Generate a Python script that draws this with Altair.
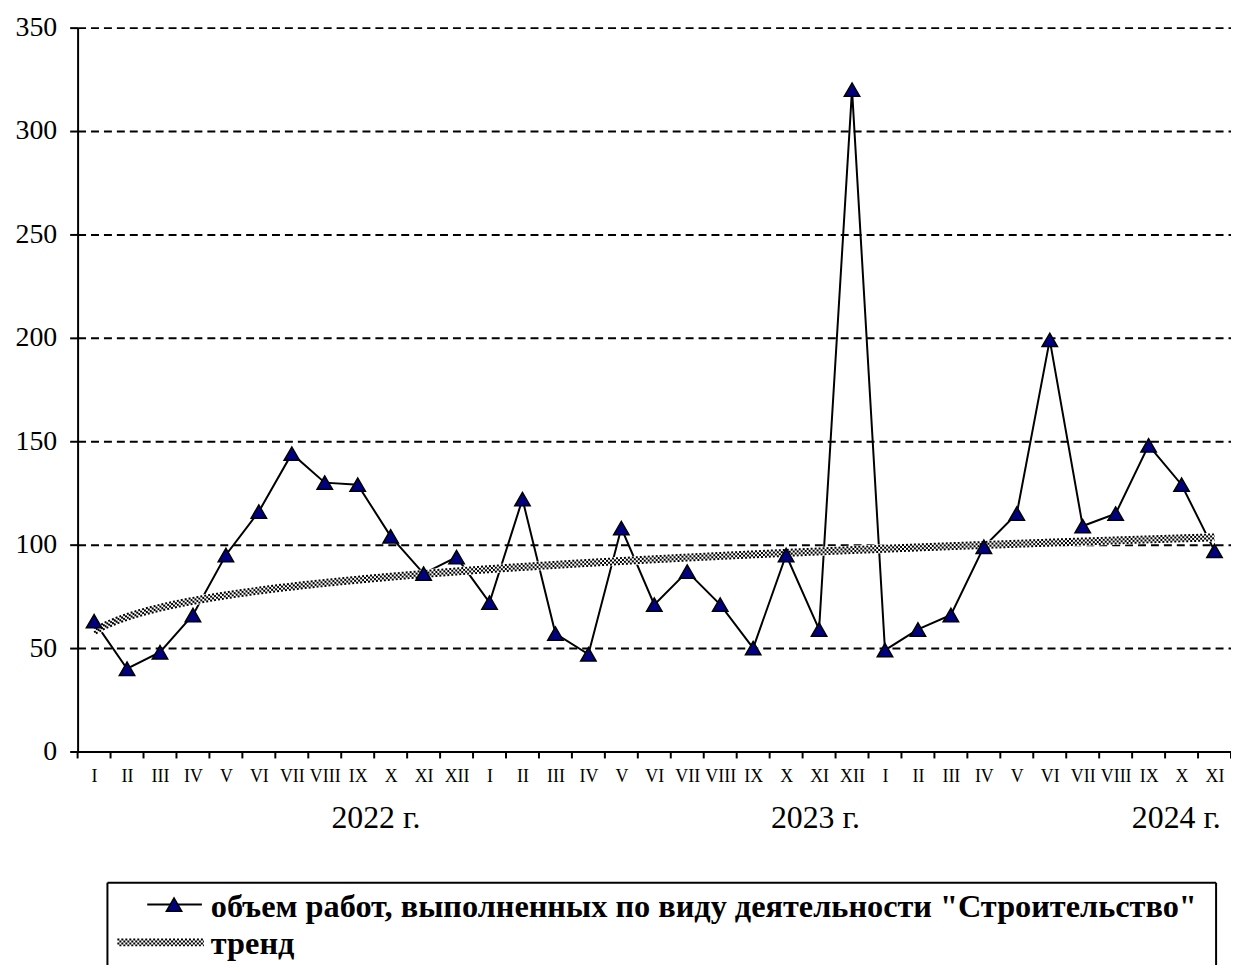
import altair as alt
import pandas as pd
import numpy as np

years = ["2022"] * 12 + ["2023"] * 12 + ["2024"] * 11
months = ["I", "II", "III", "IV", "V", "VI", "VII", "VIII", "IX", "X", "XI", "XII"] * 2 + \
         ["I", "II", "III", "IV", "V", "VI", "VII", "VIII", "IX", "X", "XI"]
values = [63, 40, 48, 66, 95, 116, 144, 130, 129, 104, 86, 94,
          72, 122, 57, 47, 108, 71, 87, 71, 50, 95, 59, 320,
          49, 59, 66, 99, 115, 199, 109, 115, 148, 129, 97]
year_labels = ["2022 г.", "2023 г.", "2024 г."]
series_name = "объем работ, выполненных по виду деятельности \"Строительство\""
trend_name = "тренд"

n = len(values)
df = pd.DataFrame({"idx": np.arange(1, n + 1), "value": values, "month": months, "year": years})
bounds = pd.DataFrame({"b": np.arange(0.5, n + 1, 1.0)})

FONT = "Liberation Serif"
W, H = 1160, 728

label_arr = "[" + ",".join("'" + m + "'" for m in months) + "]"

xscale = alt.Scale(domain=[0.5, n + 0.5], nice=False, zero=False)
yscale = alt.Scale(domain=[0, 350], nice=False)

x_axis = alt.Axis(
    values=list(range(1, n + 1)), labelExpr=label_arr + "[datum.value-1]",
    ticks=False, grid=False, domainColor="black", domainWidth=2,
    labelFont=FONT, labelFontSize=18, labelColor="black", labelPadding=16,
    labelAngle=0, title=None, labelOverlap=False, labelFlush=False, labelBound=False)
y_axis = alt.Axis(
    values=[0, 50, 100, 150, 200, 250, 300, 350], grid=True, gridColor="black",
    gridDash=[8, 5], gridWidth=2, domainColor="black", domainWidth=2,
    tickColor="black", tickWidth=2, tickSize=8, labelFont=FONT, labelFontSize=28,
    labelColor="black", labelPadding=13, title=None, labelOverlap=False)

X = alt.X("idx:Q", scale=xscale, axis=x_axis)
Y = alt.Y("value:Q", scale=yscale, axis=y_axis)

base = alt.Chart(df)

line = base.mark_line(color="black", strokeWidth=2).encode(x=X, y=Y)
pts = base.mark_point(shape="triangle-up", filled=True, fill="#000080", stroke="black",
                      strokeWidth=1.5, size=240, opacity=1).encode(x=X, y=Y)

ticks = alt.Chart(bounds).mark_rule(color="black", strokeWidth=2).encode(
    x=alt.X("b:Q", scale=xscale, axis=x_axis), y=alt.value(H), y2=alt.value(H + 7))

reg = base.transform_regression("idx", "value", method="pow")
trend_layers = [reg.mark_line(color="white", strokeWidth=9).encode(x=X, y=Y)]
for k, off in enumerate([-3, -1, 1, 3]):
    trend_layers.append(reg.mark_line(color="black", strokeWidth=2, strokeDash=[2, 2],
                                      strokeDashOffset=(2 if k % 2 else 0), yOffset=off).encode(x=X, y=Y))

# year labels
yl = pd.DataFrame({"t": year_labels, "px": [300, 742, 1105]})
years_txt = alt.Chart(yl).mark_text(font=FONT, fontSize=32, color="black", baseline="middle").encode(
    x=alt.X("px:Q", scale=None), y=alt.value(795), text="t:N")

# legend box (left, top, right edges)
LX0, LY0, LX1, LY1 = 30, 860, 1145, 950
one = pd.DataFrame({"a": [0]})
box = [
    alt.Chart(one).mark_rule(color="black", strokeWidth=2).encode(
        x=alt.value(LX0), x2=alt.value(LX1), y=alt.value(LY0)),
    alt.Chart(one).mark_rule(color="black", strokeWidth=2).encode(
        x=alt.value(LX0), y=alt.value(LY0), y2=alt.value(LY1)),
    alt.Chart(one).mark_rule(color="black", strokeWidth=2).encode(
        x=alt.value(LX1), y=alt.value(LY0), y2=alt.value(LY1)),
]
leg_line = alt.Chart(one).mark_rule(color="black", strokeWidth=2).encode(
    x=alt.value(70), x2=alt.value(125), y=alt.value(882))
leg_pt = alt.Chart(one).mark_point(
    shape="triangle-up", filled=True, fill="#000080", stroke="black", strokeWidth=1.5,
    size=240, opacity=1).encode(x=alt.value(97), y=alt.value(882))
leg_trend = [alt.Chart(one).mark_rule(color="white", strokeWidth=8).encode(
    x=alt.value(40), x2=alt.value(127), y=alt.value(920))]
for k, off in enumerate([-3, -1, 1, 3]):
    leg_trend.append(alt.Chart(one).mark_rule(
        color="black", strokeWidth=2, strokeDash=[2, 2], strokeDashOffset=(2 if k % 2 else 0)).encode(
        x=alt.value(40), x2=alt.value(127), y=alt.value(920 + off)))
leg_txt = alt.Chart(pd.DataFrame({"t": [series_name, trend_name], "yy": [894, 932]})).mark_text(
    font=FONT, fontSize=32.5, fontWeight="bold", color="black", align="left", baseline="alphabetic").encode(
    x=alt.value(134), y=alt.Y("yy:Q", scale=None), text="t:N")

chart = alt.layer(line, *trend_layers, pts, ticks, years_txt, *box, leg_line, leg_pt,
                  *leg_trend, leg_txt).properties(
    width=W, height=H,
    autosize=alt.AutoSizeParams(type="none"),
    padding={"left": 70, "top": 17, "right": 0, "bottom": 212},
    background="white",
).configure(font=FONT).configure_axis(labelFont=FONT, labelColor="black").configure_view(stroke=None)

chart.save("out.html", embed_options={"renderer": "svg", "actions": False})
